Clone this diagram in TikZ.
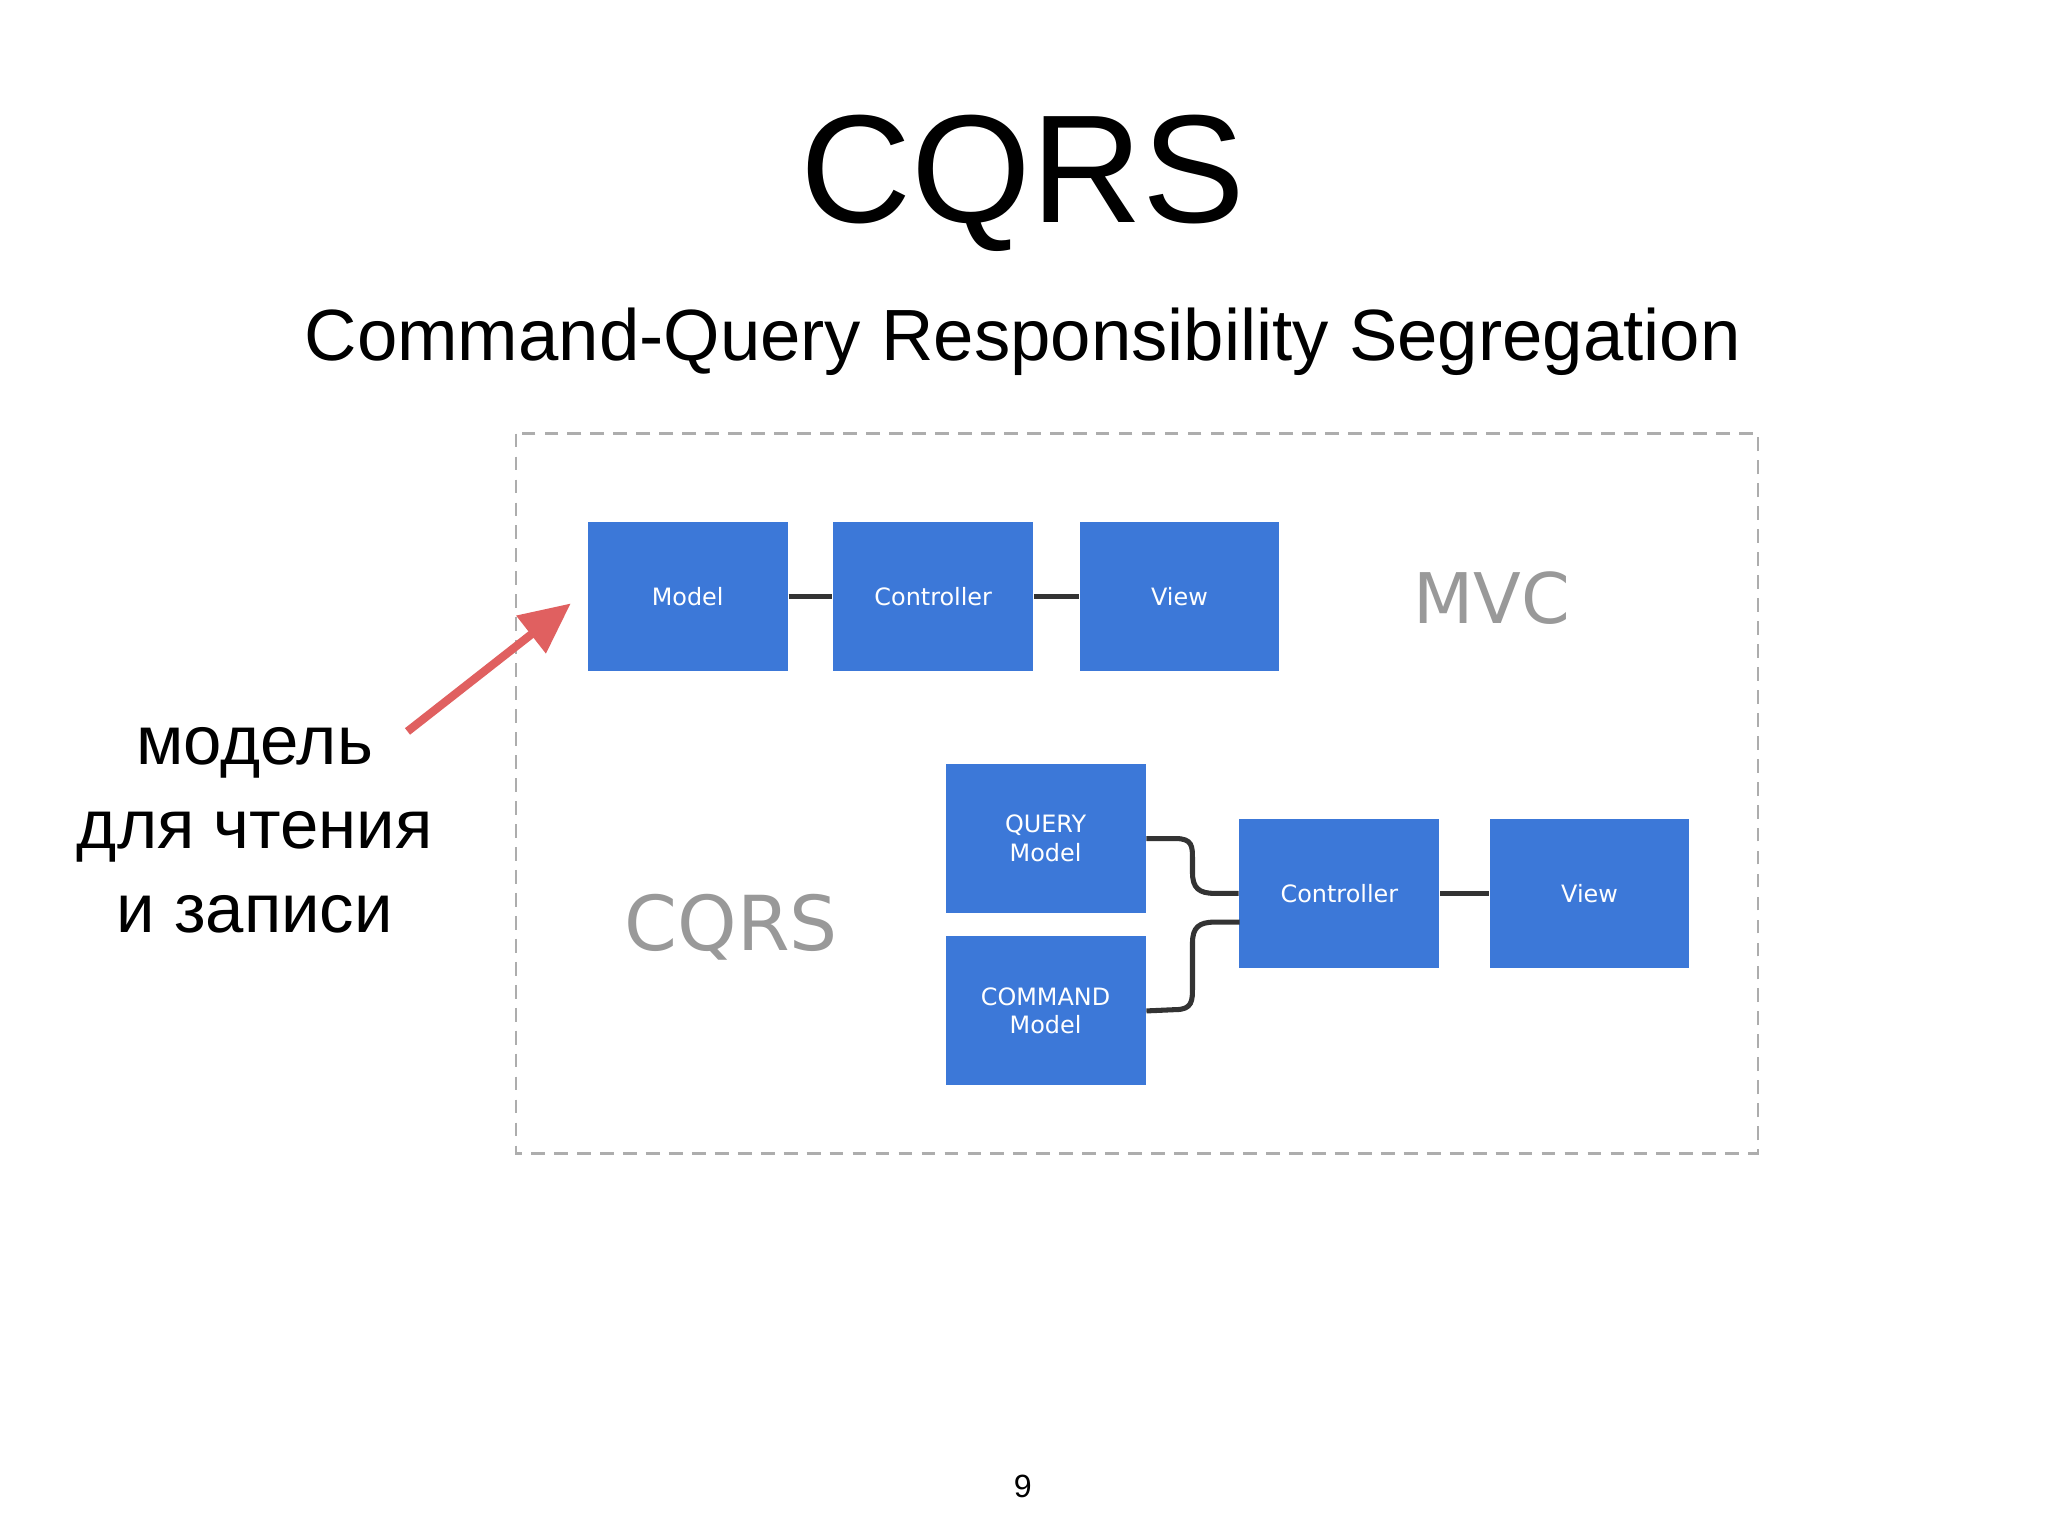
\documentclass[tikz,border=0pt]{standalone}
\usepackage{fontspec}
\setmainfont{Liberation Sans}
\newfontfamily\dv{DejaVu Sans}
\usetikzlibrary{arrows.meta}
\definecolor{bl}{HTML}{3C78D8}
\definecolor{gr}{HTML}{999999}
\definecolor{rd}{HTML}{E06060}
\begin{document}
\begin{tikzpicture}[x=0.01cm,y=-0.01cm,
  box/.style={fill=bl,draw=none,text=white,font=\dv\fontsize{5.2pt}{6.2pt}\selectfont,align=center,inner sep=0},
  con/.style={line width=1.1pt,black!80}]
\useasboundingbox[fill=white] (0,0) rectangle (1568,1176);
\node (t) at (783,140) {\fontsize{33.5pt}{36pt}\selectfont CQRS};
\node (st) at (783,262) {\fontsize{15.8pt}{18pt}\selectfont Command-Query Responsibility Segregation};
\draw[gr!80,dashed,line width=0.6pt,dash pattern=on 3pt off 2pt] (395,332) rectangle (1346,883);
\node[box,minimum width=1.53cm,minimum height=1.14cm] (m) at (526.5,457) {Model};
\node[box,minimum width=1.53cm,minimum height=1.14cm] (c) at (714.5,457) {Controller};
\node[box,minimum width=1.52cm,minimum height=1.14cm] (v) at (903,457) {View};
\node[text=gr,font=\dv\fontsize{15.2pt}{17pt}\selectfont] (mvc) at (1142,458) {MVC};
\node[box,minimum width=1.53cm,minimum height=1.14cm] (q) at (800.5,642) {QUERY\\Model};
\node[box,minimum width=1.53cm,minimum height=1.14cm] (cm) at (800.5,774) {COMMAND\\Model};
\node[box,minimum width=1.53cm,minimum height=1.14cm] (c2) at (1025.5,684) {Controller};
\node[box,minimum width=1.52cm,minimum height=1.14cm] (v2) at (1217,684) {View};
\node[text=gr,font=\dv\fontsize{16.5pt}{18pt}\selectfont] (cq) at (560,710) {CQRS};
\draw[con] (m) -- (c);
\draw[con] (c) -- (v);
\draw[con] (c2) -- (v2);
\draw[con] (q.east) -- (900,642) .. controls (913,642) and (913,648) .. (913,658) -- (913,668) .. controls (913,680) and (918,684) .. (930,684) -- (c2.west);
\draw[con] (cm.east) -- (900,773) .. controls (913,773) and (913,766) .. (913,756) -- (913,722) .. controls (913,710) and (918,706) .. (930,706) -- (949,706);
\coordinate (a0) at (312,560);
\draw[rd,line width=1.8pt,-{Triangle[length=11pt,width=10pt]}] (a0) -- (437,462);
\node[align=center,font=\fontsize{15pt}{18.3pt}\selectfont] (ru) at (195,636) {модель\\для чтения\\и записи};
\node[font=\fontsize{7pt}{8pt}\selectfont] (pn) at (783,1138) {9};
\end{tikzpicture}
\end{document}
